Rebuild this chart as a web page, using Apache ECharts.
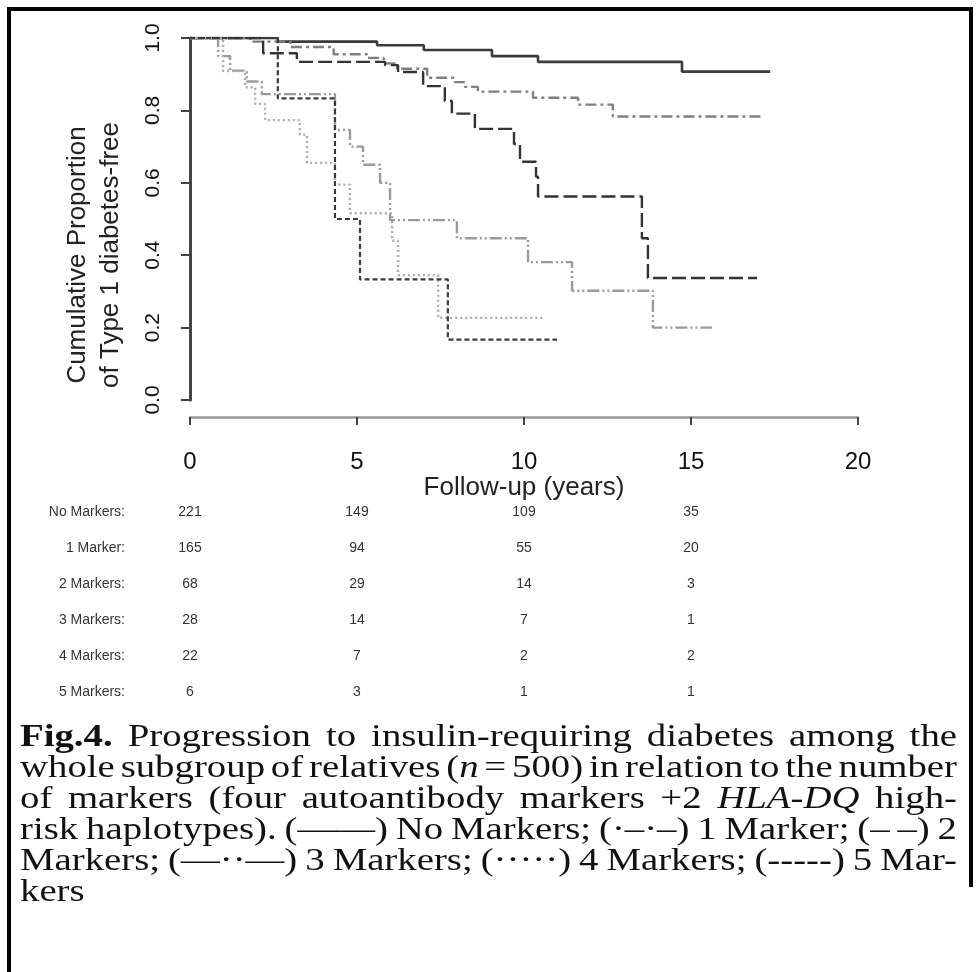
<!DOCTYPE html>
<html><head><meta charset="utf-8">
<script src="https://cdn.jsdelivr.net/npm/echarts@6/dist/echarts.min.js"></script>
<style>html,body{margin:0;padding:0;background:#fff}#c{width:976px;height:972px}</style>
</head><body><div id="c"></div>
<script>
// ---- Data ----
const xTicks = [0, 5, 10, 15, 20];
const yTicks = [0, 0.2, 0.4, 0.6, 0.8, 1.0];

const tNone  = [0, 2.63, 5.6, 7.0, 9.04, 10.42, 14.73, 17.37];
const sNone  = [1, 0.99, 0.98, 0.967, 0.95, 0.934, 0.907, 0.907];
const tOne   = [0, 1.8, 3.0, 4.3, 5.3, 5.8, 6.2, 7.1, 7.93, 8.23, 8.62, 10.27, 11.62, 12.66, 17.16];
const sOne   = [1, 0.99, 0.975, 0.955, 0.945, 0.93, 0.915, 0.89, 0.878, 0.865, 0.852, 0.835, 0.816, 0.783, 0.783];
const tTwo   = [0, 2.19, 3.2, 5.84, 6.23, 6.98, 7.63, 7.84, 8.53, 9.7, 9.88, 10.36, 10.42, 13.53, 13.71, 16.98];
const sTwo   = [1, 0.958, 0.934, 0.925, 0.906, 0.867, 0.826, 0.791, 0.749, 0.707, 0.658, 0.617, 0.562, 0.447, 0.337, 0.337];
const tThree = [0, 0.84, 1.2, 1.7, 2.15, 4.34, 4.79, 5.18, 5.69, 5.99, 7.99, 10.12, 11.44, 13.86, 15.63];
const sThree = [1, 0.95, 0.91, 0.88, 0.845, 0.746, 0.70, 0.65, 0.60, 0.497, 0.447, 0.381, 0.302, 0.20, 0.20];
const tFour  = [0, 0.99, 1.65, 1.95, 2.25, 3.29, 3.5, 4.34, 4.79, 6.05, 6.23, 7.43, 10.63];
const sFour  = [1, 0.909, 0.864, 0.818, 0.773, 0.733, 0.655, 0.595, 0.516, 0.44, 0.345, 0.227, 0.227];
const tFive  = [0, 2.63, 4.34, 5.09, 7.72, 10.99];
const sFive  = [1, 0.833, 0.5, 0.333, 0.167, 0.167];

const groupLabels = ['No Markers:', '1 Marker:', '2 Markers:', '3 Markers:', '4 Markers:', '5 Markers:'];
const riskTimes = [0, 5, 10, 15];
const riskNone  = [221, 149, 109, 35];
const riskOne   = [165, 94, 55, 20];
const riskTwo   = [68, 29, 14, 3];
const riskThree = [28, 14, 7, 1];
const riskFour  = [22, 7, 2, 2];
const riskFive  = [6, 3, 1, 1];

const xTitle = 'Follow-up (years)';
const yTitle = 'Cumulative Proportion\nof Type 1 diabetes-free';

const captionLines = [
  '{b|Fig.4.} Progression to insulin-requiring diabetes among the',
  'whole subgroup of relatives ({i|n} = 500) in relation to the number',
  'of markers (four autoantibody markers +2 {i|HLA-DQ} high-',
  'risk haplotypes). (——) No Markers; (·–·–) 1 Marker; (– –) 2',
  'Markers; (—··—) 3 Markers; (·····) 4 Markers; (-----) 5 Mar-',
  'kers'
];

// ---- Chart ----
const chart = echarts.init(document.getElementById('c'), null, {renderer: 'canvas'});
const pairs = (t, s) => t.map((v, i) => [v, s[i]]);
const sans = '"Liberation Sans", Arial, sans-serif';

const seriesDefs = [
  {t: tNone,  s: sNone,  color: '#3a3a3a', width: 2.6, type: 'solid'},
  {t: tOne,   s: sOne,   color: '#808080', width: 2.4, type: [11, 4, 3, 4]},
  {t: tTwo,   s: sTwo,   color: '#333333', width: 2.4, type: [14, 5]},
  {t: tThree, s: sThree, color: '#9a9a9a', width: 2.4, type: [12, 3, 2, 3, 2, 3]},
  {t: tFour,  s: sFour,  color: '#ababab', width: 2.4, type: [2, 3]},
  {t: tFive,  s: sFive,  color: '#3a3a3a', width: 2.2, type: [5, 3]}
];

chart.setOption({
  animation: false,
  backgroundColor: '#fff',
  grid: {left: 190, right: 118, top: 38, bottom: 572, outerBoundsMode: 'none'},
  xAxis: {
    type: 'value', min: xTicks[0], max: xTicks[xTicks.length - 1], interval: 5,
    offset: 17,
    axisLine: {show: true, onZero: false, lineStyle: {color: '#999', width: 2.5}},
    axisTick: {show: true, length: 8, lineStyle: {color: '#444', width: 2}},
    splitLine: {show: false},
    axisLabel: {fontSize: 24, color: '#111', fontFamily: sans, margin: 33},
    name: xTitle, nameLocation: 'middle', nameGap: 57,
    nameTextStyle: {fontSize: 26, color: '#222', fontFamily: sans}
  },
  yAxis: {
    type: 'value', min: yTicks[0], max: yTicks[yTicks.length - 1], interval: 0.2,
    axisLine: {show: true, lineStyle: {color: '#444', width: 3}},
    axisTick: {show: true, length: 9, lineStyle: {color: '#444', width: 2}},
    splitLine: {show: false},
    axisLabel: {fontSize: 21, color: '#111', fontFamily: sans, rotate: 90, margin: 26,
      formatter: v => v.toFixed(1)}
  },
  series: seriesDefs.map(d => ({
    type: 'line', step: 'end', showSymbol: false, symbol: 'none',
    data: pairs(d.t, d.s),
    lineStyle: {color: d.color, width: d.width, type: d.type},
    z: 2
  }))
});

const graphics = [];
// ---- Y axis title (two lines, rotated, centred as in the reference) ----
graphics.push({type: 'text', x: 94, y: 255, rotation: Math.PI / 2,
  style: {text: yTitle, x: 0, y: 0, align: 'center', verticalAlign: 'middle',
    fontSize: 26, lineHeight: 33, fontFamily: sans, fill: '#222'}});

// ---- Risk table ----
const riskRows = [riskNone, riskOne, riskTwo, riskThree, riskFour, riskFive];
const rowY = [512, 548, 584, 620, 656, 692];
riskRows.forEach((row, r) => {
  graphics.push({type: 'text', style: {text: groupLabels[r], x: 125, y: rowY[r],
    align: 'right', verticalAlign: 'middle', fontSize: 14, fontFamily: sans, fill: '#333'}});
  row.forEach((n, k) => {
    const px = chart.convertToPixel({xAxisIndex: 0}, riskTimes[k]);
    graphics.push({type: 'text', style: {text: String(n), x: px, y: rowY[r],
      align: 'center', verticalAlign: 'middle', fontSize: 14, fontFamily: sans, fill: '#333'}});
  });
});

// ---- Caption (justified) ----
const capSize = 31, capFam = '"Liberation Serif", "Times New Roman", serif';
const ctx = document.createElement('canvas').getContext('2d');
function parseWord(w) {
  const segs = []; const re = /\{(\w)\|([^}]*)\}|([^{]+)/g; let m;
  while ((m = re.exec(w))) { if (m[3]) segs.push({t: m[3], s: ''}); else segs.push({t: m[2], s: m[1]}); }
  return segs;
}
function measure(w) {
  return parseWord(w).reduce((acc, sg) => {
    ctx.font = (sg.s === 'i' ? 'italic ' : '') + (sg.s === 'b' ? 'bold ' : '') + capSize + 'px ' + capFam;
    return acc + ctx.measureText(sg.t).width;
  }, 0);
}
function splitWords(line) {
  const out = []; let cur = ''; let depth = 0;
  for (const ch of line) {
    if (ch === '{') depth++;
    if (ch === '}') depth--;
    if (ch === ' ' && depth === 0) { if (cur) out.push(cur); cur = ''; } else cur += ch;
  }
  if (cur) out.push(cur);
  return out;
}
ctx.font = capSize + 'px ' + capFam;
const spaceW = ctx.measureText(' ').width * 0.6;
const capLeft = 20, capRight = 957, capW = capRight - capLeft;
const capY = [738, 769, 800, 831, 862, 893];
const lineInfo = captionLines.map(l => {
  const words = splitWords(l);
  const ws = words.map(measure);
  const sum = ws.reduce((a, b) => a + b, 0);
  return {words, ws, sum, natural: sum + spaceW * (words.length - 1)};
});
let maxNat = 0;
lineInfo.forEach((li, i) => { if (i < lineInfo.length - 1) maxNat = Math.max(maxNat, li.natural); });
const sx = capW / maxNat;
const rich = {
  b: {fontWeight: 'bold', fontSize: capSize, fontFamily: capFam, fill: '#111'},
  i: {fontStyle: 'italic', fontSize: capSize, fontFamily: capFam, fill: '#111'}
};
lineInfo.forEach((li, i) => {
  const last = i === lineInfo.length - 1;
  const gap = last ? spaceW : (capW / sx - li.sum) / (li.words.length - 1);
  let pos = 0; const kids = [];
  li.words.forEach((w, k) => {
    kids.push({type: 'text', style: {text: w, x: pos, y: 0, align: 'left', verticalAlign: 'middle',
      fontSize: capSize, fontFamily: capFam, fill: '#111', rich}});
    pos += li.ws[k] + gap;
  });
  graphics.push({type: 'group', x: capLeft, y: capY[i], scaleX: sx, children: kids});
});

// ---- Frame ----
graphics.push({type: 'rect', shape: {x: 7, y: 7, width: 966, height: 4}, style: {fill: '#000'}});
graphics.push({type: 'rect', shape: {x: 7, y: 7, width: 4, height: 965}, style: {fill: '#000'}});
graphics.push({type: 'rect', shape: {x: 969, y: 7, width: 4, height: 880}, style: {fill: '#000'}});

chart.setOption({graphic: graphics});
</script>
</body></html>
